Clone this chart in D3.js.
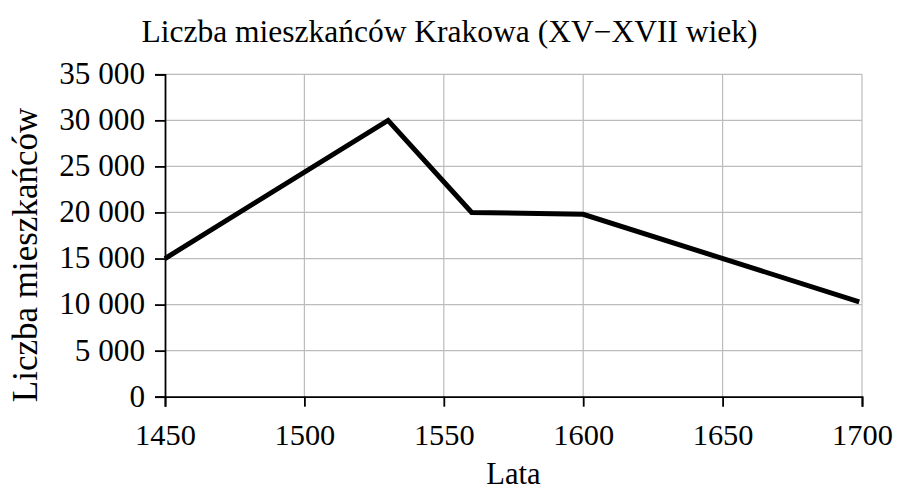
<!DOCTYPE html>
<html>
<head>
<meta charset="utf-8">
<script src="https://cdn.jsdelivr.net/npm/d3@7"></script>
<style>
  html, body { margin: 0; padding: 0; background: #fff; }
  svg { display: block; }
  text { font-family: "Liberation Serif", "Times New Roman", serif; fill: #000; }
</style>
</head>
<body>
<svg id="chart" width="897" height="491"></svg>
<script>
const years = [1450, 1530, 1560, 1600, 1699];
const population = [15000, 30000, 20000, 19800, 10300];
const xTicks = [1450, 1500, 1550, 1600, 1650, 1700];
const yTicks = [0, 5000, 10000, 15000, 20000, 25000, 30000, 35000];
const title = "Liczba mieszkańców Krakowa (XV\u2212XVII wiek)";
const xTitle = "Lata";
const yTitle = "Liczba mieszkańców";

const data = years.map((y, i) => ({ year: y, value: population[i] }));
const SERIF = '"Liberation Serif", "Times New Roman", serif';

const svg = d3.select("#chart");
const margin = { left: 165, right: 35, top: 74.3, bottom: 94.3 };
const W = 897, H = 491;

const x = d3.scaleLinear().domain([1450, 1700]).range([margin.left, W - margin.right]);
const y = d3.scaleLinear().domain([0, 35000]).range([H - margin.bottom, margin.top]);

const fmt = v => d3.format(",")(v).replace(/,/g, "\u00a0");

// gridlines
svg.append("g").selectAll("line").data(yTicks.filter(d => d > 0)).join("line")
  .attr("x1", x(1450)).attr("x2", x(1700))
  .attr("y1", d => y(d)).attr("y2", d => y(d))
  .attr("stroke", "#bcbcbc").attr("stroke-width", 1.2);
svg.append("g").selectAll("line").data(xTicks.filter(d => d > 1450)).join("line")
  .attr("x1", d => x(d)).attr("x2", d => x(d))
  .attr("y1", y(0)).attr("y2", y(35000))
  .attr("stroke", "#bcbcbc").attr("stroke-width", 1.2);

// axes
const yAxis = d3.axisLeft(y).tickValues(yTicks).tickSize(10).tickPadding(10).tickFormat(fmt);
const gy = svg.append("g").attr("transform", `translate(${x(1450)},0)`).call(yAxis);
gy.attr("font-family", SERIF).attr("font-size", null);
gy.select(".domain").attr("stroke", "#000").attr("stroke-width", 1.8);
gy.selectAll(".tick line").attr("stroke", "#000").attr("stroke-width", 1.8);
gy.selectAll(".tick text").style("font-family", SERIF).style("font-size", "31.2px").attr("dy", "0.3em");

const xAxis = d3.axisBottom(x).tickValues(xTicks).tickSize(10).tickPadding(10).tickFormat(d3.format("d"));
const gx = svg.append("g").attr("transform", `translate(0,${y(0)})`).call(xAxis);
gx.attr("font-family", SERIF).attr("font-size", null);
gx.select(".domain").attr("stroke", "#000").attr("stroke-width", 1.8);
gx.selectAll(".tick line").attr("stroke", "#000").attr("stroke-width", 1.8);
gx.selectAll(".tick text").style("font-family", SERIF).style("font-size", "30.4px")
  .attr("dy", null).attr("y", 48);

// line
const line = d3.line().x(d => x(d.year)).y(d => y(d.value));
svg.append("path").datum(data)
  .attr("d", line)
  .attr("fill", "none")
  .attr("stroke", "#000")
  .attr("stroke-width", 5)
  .attr("stroke-linejoin", "miter")
  .attr("stroke-linecap", "butt");

// titles
svg.append("text").attr("x", 449.5).attr("y", 42)
  .attr("text-anchor", "middle").style("font-size", "31.5px").text(title);
svg.append("text").attr("x", (x(1450) + x(1700)) / 2).attr("y", 484)
  .attr("text-anchor", "middle").style("font-family", SERIF).style("font-size", "30.6px").text(xTitle);
svg.append("text").attr("transform", "translate(37,255) rotate(-90)")
  .attr("text-anchor", "middle").style("font-size", "35px").text(yTitle);
</script>
</body>
</html>
